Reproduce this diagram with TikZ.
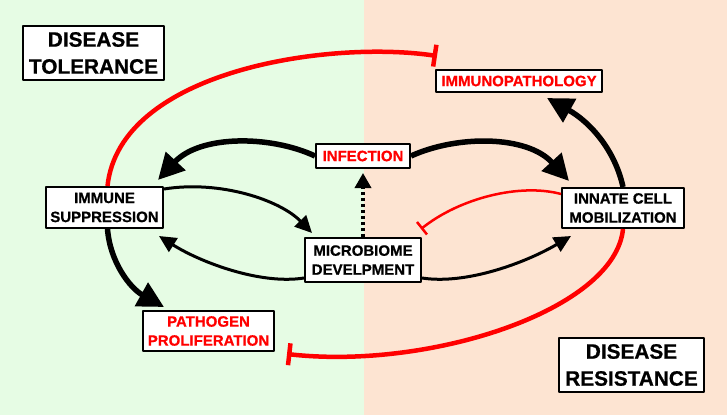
\documentclass[tikz,border=0pt]{standalone}
\usepackage{fontspec}
\setmainfont{Liberation Sans}[BoldFeatures={FakeBold=0.8}]
\usetikzlibrary{arrows.meta}
\definecolor{tolgreen}{RGB}{230,252,228}
\definecolor{respeach}{RGB}{253,228,210}
\definecolor{inhred}{RGB}{255,0,0}

\begin{document}
\begin{tikzpicture}[x=1pt, y=-1pt, line join=round,
    box/.style={draw=black, line width=2pt, fill=white, align=center, inner sep=0pt,
      font=\bfseries\fontsize{15}{19}\selectfont},
    bigbox/.style={box, font=\bfseries\fontsize{20.8}{27}\selectfont},
    bad/.style={text=inhred},
    thick arr/.style={line width=5.5pt, -{Triangle[length=26pt,width=26pt]}},
    thin arr/.style={line width=3pt, -{Triangle[length=17pt,width=16pt]}},
    dot arr/.style={line width=3.5pt, dash pattern=on 3pt off 3pt, -{Triangle[length=15pt,width=16pt]}},
    big block/.style={inhred, line width=4.5pt, -{Bar[width=22pt]}},
    small block/.style={inhred, line width=2.5pt, -{Bar[width=16pt]}}]
  % two halves
  \fill[tolgreen] (0,0) rectangle (363.5,415);
  \fill[respeach] (363.5,0) rectangle (727,415);
  \useasboundingbox (0,0) rectangle (727,415);

  \node[bigbox, minimum width=141pt, minimum height=54pt] (tol) at (93.5,53) {DISEASE\\TOLERANCE};
  \node[bigbox, minimum width=145pt, minimum height=54pt] (res) at (631.5,365) {DISEASE\\RESISTANCE};
  \node[box, bad, minimum width=166pt, minimum height=22pt] (imp) at (519,81) {IMMUNOPATHOLOGY};
  \node[box, bad, minimum width=94pt, minimum height=24pt] (inf) at (363,156) {INFECTION};
  \node[box, minimum width=117pt, minimum height=41pt] (sup) at (104.5,207.5) {IMMUNE\\SUPPRESSION};
  \node[box, minimum width=122pt, minimum height=40pt] (inn) at (623,208) {INNATE CELL\\MOBILIZATION};
  \node[box, minimum width=116pt, minimum height=44pt] (mic) at (363,260) {MICROBIOME\\DEVELPMENT};
  \node[box, bad, minimum width=131pt, minimum height=40pt] (pat) at (208.5,331) {PATHOGEN\\PROLIFERATION};

  \coordinate (impbar) at (437,56);
  \coordinate (patbar) at (287,354);
  \coordinate (micbar) at (421,229);

  % inhibitions
  \draw[big block] ([xshift=3pt]sup.north) .. controls (120,70) and (330,40) .. (impbar);
  \draw[big block] (inn.south) .. controls (615,310) and (430,370) .. (patbar);
  \draw[small block] ([yshift=-7pt]inn.north west) .. controls (520,183) and (460,198) .. (micbar);

  % activations
  \draw[thick arr] (inf.west) .. controls (270,135) and (200,135) .. ([xshift=-6pt,yshift=6pt]sup.north east);
  \draw[thick arr] (inf.east) .. controls (457,135) and (527,135) .. ([xshift=8pt,yshift=6pt]inn.north west);
  \draw[thick arr] (inn.north) .. controls (615,150) and (590,122) .. ([xshift=28pt,yshift=-5pt]imp.south);
  \draw[thick arr] ([xshift=3pt]sup.south) .. controls (110,262) and (130,288) .. ([xshift=22pt,yshift=3pt]pat.north west);
  \draw[thin arr] ([yshift=-3pt]sup.north east) .. controls (220,180) and (280,200) .. ([xshift=8pt,yshift=4pt]mic.north west);
  \draw[thin arr] ([yshift=5pt]mic.south west) .. controls (260,285) and (200,262) .. ([xshift=-5pt,yshift=-7pt]sup.south east);
  \draw[thin arr] ([yshift=5pt]mic.south east) .. controls (467,285) and (527,262) .. ([xshift=10pt,yshift=-7pt]inn.south west);
  \draw[dot arr] (mic.north) -- ([yshift=-4pt]inf.south);
\end{tikzpicture}
\end{document}
